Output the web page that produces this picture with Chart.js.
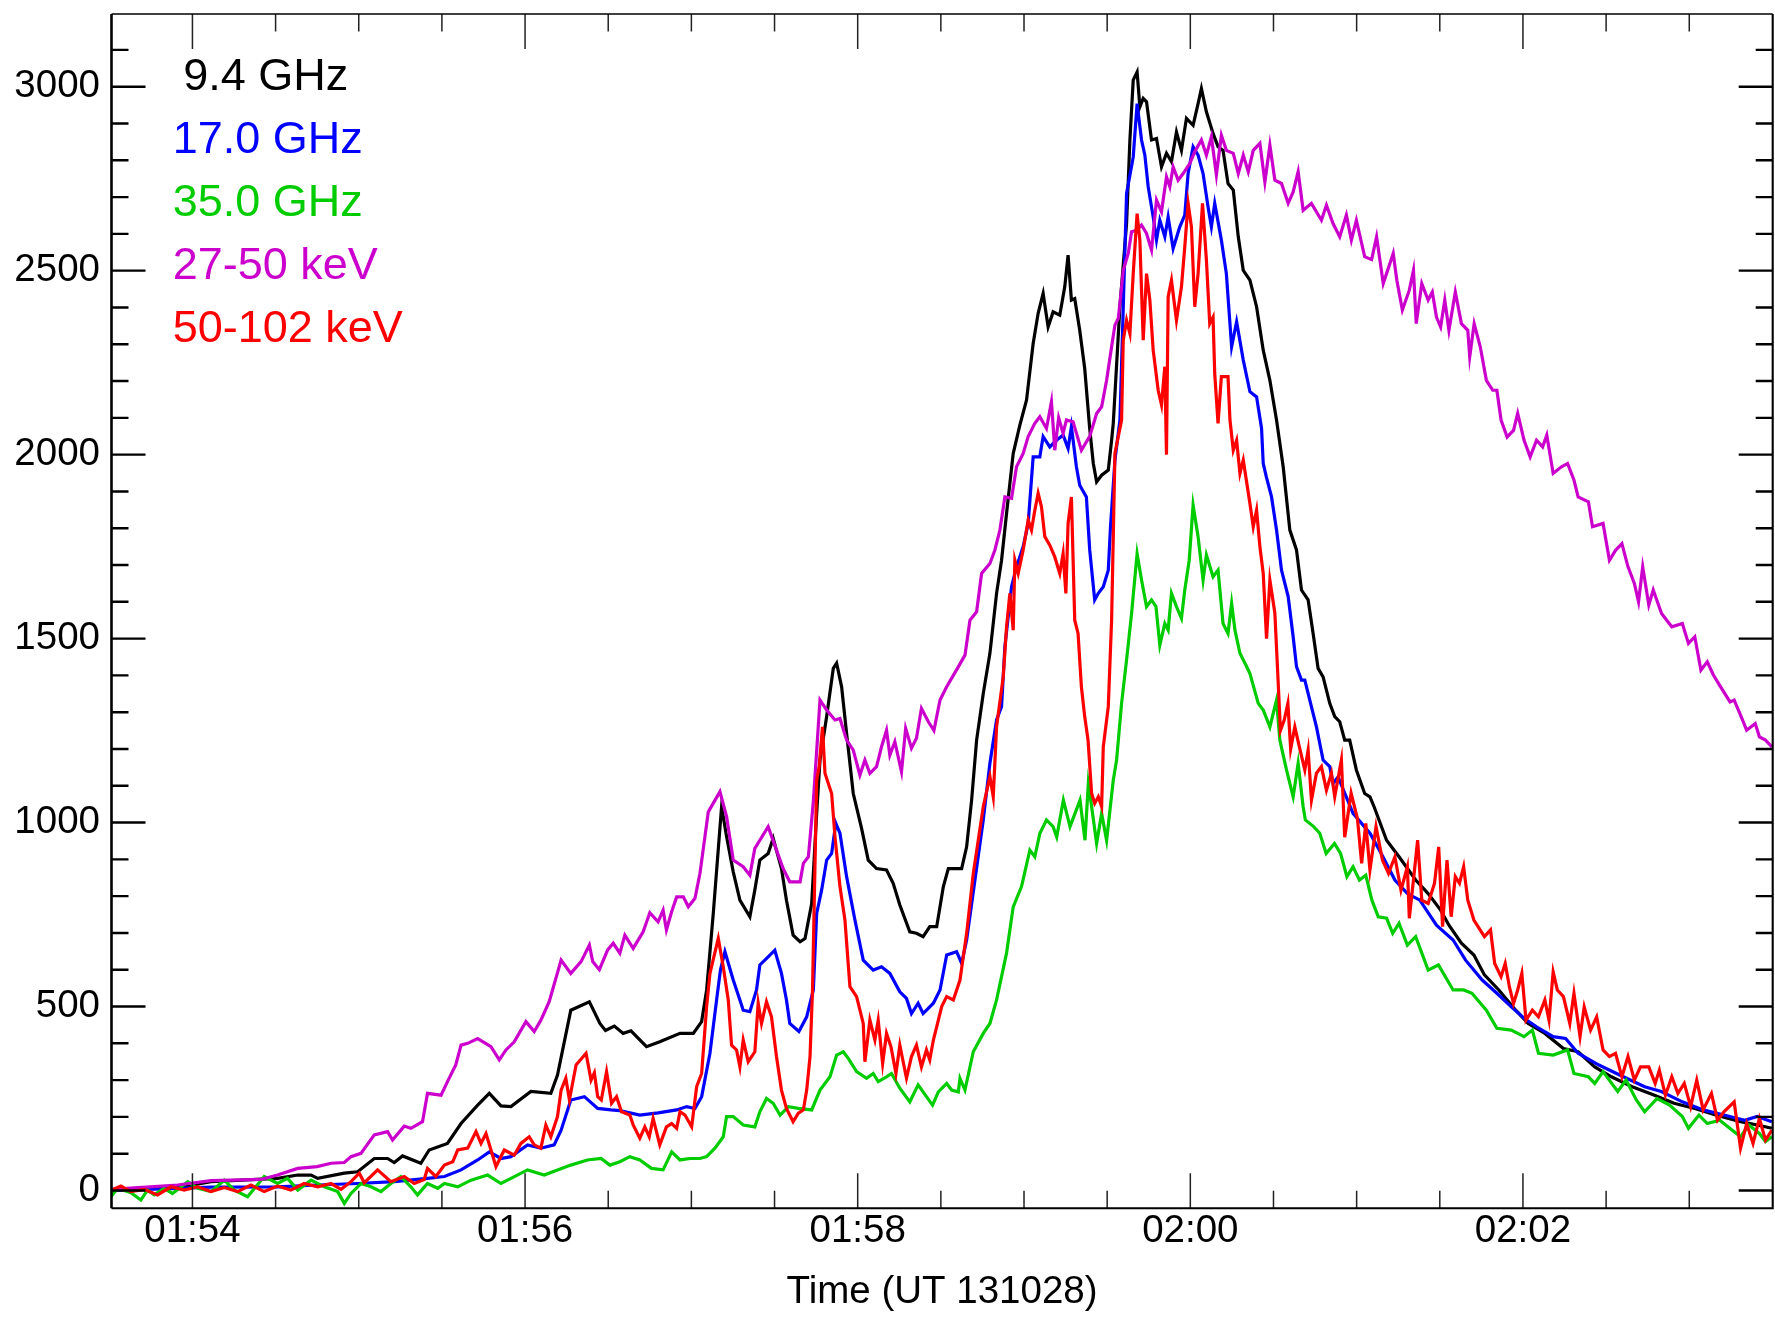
<!DOCTYPE html>
<html>
<head>
<meta charset="utf-8">
<script src="https://cdn.jsdelivr.net/npm/chart.js@4"></script>
<style>
html,body{margin:0;padding:0;background:#fff;}
#c{display:block;}
</style>
</head>
<body>
<canvas id="c" width="1775" height="1317" style="width:1775px;height:1317px"></canvas>
<script>
// ---------------- DATA ----------------
// time: seconds after 01:54:00 UT (2013-10-28); value: flux / counts
const xMajorTicks = [0, 120, 240, 360, 480];
const xTickLabels = ['01:54', '01:56', '01:58', '02:00', '02:02'];
const xMinorTicks = [30, 60, 90, 150, 180, 210, 270, 300, 330, 390, 420, 450, 510, 540];
const yMajorTicks = [0, 500, 1000, 1500, 2000, 2500, 3000];
const yTickLabels = ['0', '500', '1000', '1500', '2000', '2500', '3000'];
const yMinorTicks = [100,200,300,400,600,700,800,900,1100,1200,1300,1400,1600,1700,1800,1900,2100,2200,2300,2400,2600,2700,2800,2900,3100];
const seriesLabels = ['9.4 GHz', '17.0 GHz', '35.0 GHz', '27-50 keV', '50-102 keV'];
const xTitle = 'Time (UT 131028)';

const ghz9_4 = [[-29.4,1],[-5.3,8],[6.7,24],[30.7,33],[38,42],[42.8,42],[45.2,33],[54.8,47],[59.6,51],[65.6,87],
[70.4,87],[72.8,76],[75.8,94],[82.4,74],[85.4,110],[92,128],[96.9,182],[102.9,232],[107.1,264],[111.3,230],
[114.9,228],[122.1,269],[129.3,264],[131.7,314],[136.5,490],[143.2,513],[147,454],[149,435],[152.2,447],[155.4,427],
[158.2,434],[163.8,391],[168.6,404],[175.9,427],[180.7,427],[183.7,459],[185.5,545],[187.9,753],[190.9,1043],[192.7,962],
[195.1,866],[197.5,789],[201.1,744],[202.9,817],[204.7,898],[207.7,916],[209.5,957],[212.5,875],[214.3,789],[216.7,694],
[219.2,676],[221,685],[223.4,780],[225.2,1025],[226.4,1170],[228.8,1288],[231.2,1419],[232.4,1433],[234.2,1369],[236,1242],
[238.4,1079],[241.4,984],[243.8,898],[246.8,875],[250.4,871],[252.8,835],[255.2,776],[258.8,703],[261.2,699],[263.6,690],
[266,717],[268.5,717],[270.9,826],[272.7,875],[277.5,875],[279.3,934],[281.1,1061],[282.9,1224],[285.3,1351],[287.7,1460],
[290.1,1623],[291.9,1713],[293.7,1840],[296.1,2003],[298.5,2080],[300.9,2148],[303.3,2302],[305.1,2384],[306.9,2438],[308.7,2347],
[310.5,2388],[312.9,2379],[314.7,2456],[315.9,2542],[317.1,2420],[318.3,2424],[320.1,2338],[321.9,2234],[323.7,2071],[325,1976],
[326.2,1926],[328,1944],[330.4,1958],[331.6,2039],[332.2,2085],[334.6,2402],[337,2628],[338.2,2855],[339.4,3018],[340.8,3040],
[341.8,2945],[343,2968],[344.2,2959],[346,2855],[347.8,2859],[349.6,2782],[351.4,2819],[353.2,2796],[355,2877],[356.8,2827],
[358.6,2914],[361,2895],[362.8,2954],[364,2995],[365.8,2932],[368.2,2873],[370,2837],[371.8,2827],[373.6,2737],[375.5,2719],
[377.3,2592],[379.1,2501],[381.5,2474],[383.9,2402],[386.3,2284],[388.7,2202],[391.1,2094],[393.5,1967],[395.9,1795],[398.3,1741],
[400.1,1632],[402.5,1605],[404.3,1514],[406.1,1419],[407.9,1396],[410.3,1324],[412.1,1288],[413.9,1274],[415.7,1224],[417.5,1224],
[419.9,1143],[422.9,1079],[424.8,1070],[426.3,1043],[430.8,952],[435.3,907],[441.3,844],[445.8,807],[450.3,762],[453.3,721],
[457.8,672],[462.3,640],[466.1,586],[471.3,545],[477.4,490],[481.9,454],[487.9,427],[494.6,386],[499.9,377],[505.9,336],
[511.9,309],[519.4,282],[527,260],[534.5,237],[542,223],[549.5,205],[558.5,187],[564.5,178],[569.8,169]];

const ghz17 = [[-29.4,0],[-5.3,6],[6.7,9],[30.7,10],[45.2,15],[59.6,19],[72.8,24],[84.8,33],[90.9,38],[96.9,56],
[102.9,83],[107.1,105],[111.3,87],[114.9,92],[120.9,124],[125.7,115],[130.5,124],[133,164],[136.5,246],[141.4,255],
[146.2,223],[151,219],[154.2,217],[161.4,205],[168,211],[174.7,219],[178.3,228],[181.3,223],[183.7,255],[186.7,373],
[189.1,518],[190.5,600],[192.1,649],[195.1,572],[197.5,518],[198.7,490],[201.1,486],[203.5,545],[204.7,613],[207.7,635],
[210.1,653],[212.5,590],[214.3,518],[215.5,454],[218.8,432],[221.6,472],[224,545],[225.2,753],[227,817],[228.8,898],
[230.6,916],[232.1,998],[233.6,971],[236,853],[239,735],[242,626],[245.6,599],[248.6,608],[251.6,590],[255.2,540],
[257.6,522],[259.4,481],[261.8,509],[263.6,481],[267.3,509],[269.7,545],[272.1,640],[275.7,649],[277.5,617],[279.3,681],
[282.3,844],[285.3,1007],[287.7,1161],[290.1,1279],[291.9,1315],[293.1,1478],[295.5,1641],[297.3,1695],[299.7,1750],[301.5,1813],
[303.3,1994],[305.7,1994],[306.9,2049],[309.3,2021],[311.7,2039],[314.1,2053],[315.9,2017],[317.1,2076],[318.9,1967],[320.1,1917],
[322.5,1885],[323.7,1741],[325.5,1605],[326.8,1623],[328.6,1641],[330.4,1686],[331.2,1804],[332.8,1985],[334.6,2094],[335.8,2400],
[337,2710],[339.4,2809],[340.8,2954],[342.4,2855],[343.6,2814],[344.8,2728],[346.6,2646],[347.8,2583],[349,2637],[350.8,2592],
[352,2646],[353.8,2560],[356.2,2619],[358,2651],[359.2,2764],[361,2837],[362.8,2814],[364.6,2764],[366.4,2673],[367.6,2619],
[368.8,2683],[371.2,2583],[373,2492],[374.9,2293],[376.7,2361],[379.1,2257],[381.5,2171],[383.9,2157],[385.7,2071],[386.3,1976],
[387.4,1940],[389.3,1885],[391.1,1795],[392.9,1686],[395.3,1614],[397.1,1505],[398.3,1424],[400.1,1387],[401.3,1387],[403.1,1333],
[405.5,1260],[407.9,1170],[410.3,1152],[411.5,1106],[413.3,1124],[418.7,1025],[424.8,971],[428.5,921],[433.8,844],[438.3,807],
[442.8,789],[448.8,721],[454.8,681],[459.3,626],[465.3,572],[470.6,536],[475.8,499],[480.4,468],[484.9,445],[490.9,418],
[495.4,413],[499.9,373],[507.4,341],[514.9,314],[523.9,282],[529.9,269],[537.5,241],[545,219],[552.5,205],[560,191],
[564.5,201],[569.8,187]];

const ghz35 = [[-29.4,-17],[-27,6],[-22.2,-6],[-18.6,-26],[-16.2,1],[-13.8,-12],[-10.2,6],[-7.2,-8],[-1.7,24],[1.9,6],
[6.7,-3],[11.5,28],[15.1,1],[19.9,-17],[25.9,38],[30.7,19],[34.3,33],[38,1],[42.8,28],[47.6,10],
[52.4,-3],[54.8,-35],[57.2,-8],[60.8,19],[64.4,10],[68,-3],[71.6,19],[75.2,38],[78.8,10],[81.2,-12],
[84.8,19],[88.5,6],[90.9,19],[95.7,10],[100.5,28],[106.5,42],[111.3,19],[114.9,33],[120.9,56],[126.9,42],
[131.7,56],[136.5,69],[142.5,83],[147.4,87],[150.6,69],[154.2,78],[157.8,92],[161.4,83],[165.6,60],[169.8,56],
[172.9,105],[175.9,83],[179.5,87],[183.1,87],[185.5,92],[188.5,115],[191.5,146],[192.7,201],[195.1,201],[198.7,178],
[202.9,173],[204.7,214],[207.1,250],[209.5,237],[212,205],[215,228],[218.6,223],[223.4,219],[226.4,273],[230,309],
[232.4,368],[234.8,377],[236.6,359],[239.6,323],[243.2,305],[245.6,318],[247.4,296],[250.4,309],[252.2,318],[255.2,278],
[258.8,241],[261.8,287],[264.8,255],[267,232],[269.1,268],[272.1,291],[273.9,273],[276.3,268],[276.9,305],[278.7,273],
[281.7,377],[285.3,427],[287.7,454],[290.1,518],[293.7,645],[296.1,771],[299.1,826],[302.1,925],[303.9,907],[305.7,970],
[308.1,1007],[310.5,989],[311.8,961],[314.2,1061],[316.6,989],[318.4,1025],[320.2,1061],[322,952],[323.2,1106],[324.4,1043],
[326.2,943],[328,1025],[329.8,952],[332.2,1115],[333.4,1170],[335.2,1324],[337,1442],[338.8,1568],[340.8,1731],[342.4,1659],
[344.2,1587],[346,1605],[347.6,1587],[349,1482],[350.8,1541],[352,1523],[353.2,1623],[355,1587],[356.8,1555],[358,1632],
[359.6,1713],[361,1863],[362.8,1777],[364.6,1659],[365.8,1727],[368.2,1668],[370,1686],[371.8,1541],[373.6,1514],[374.9,1596],
[376.1,1523],[377.9,1460],[380.3,1424],[381.5,1405],[384.5,1324],[386.3,1306],[388.7,1260],[391.1,1333],[392.3,1224],[394.7,1143],
[397.1,1070],[398.9,1161],[400.7,1043],[401.5,1007],[404.5,989],[406.7,971],[409,916],[412,943],[414.2,916],[416.5,853],
[418.7,880],[421,844],[423.3,857],[425.5,789],[427.8,744],[430.8,740],[433,699],[435.3,726],[438.3,667],[441.3,690],
[445.8,599],[449.5,613],[454.8,545],[458.6,545],[461.6,536],[466.8,490],[470.6,441],[475.8,436],[480.4,418],[483.4,436],
[485.6,373],[490.9,368],[496.1,382],[498.4,318],[503.6,309],[505.9,291],[508.9,323],[514.2,269],[517.2,300],[520.9,246],
[523.9,214],[528.4,250],[532.9,232],[537.5,201],[539.7,169],[543.5,205],[546.5,182],[551,191],[555.5,164],[558.5,146],
[561.5,178],[565.3,155],[567.5,133],[569.8,146]];

const kev27_50 = [[-29.4,3],[-5.3,15],[6.7,27],[24.7,30],[30.7,42],[38,60],[45,65],[50,74],[54.8,76],[57.2,92],
[60.8,101],[65.6,151],[70.4,160],[72.2,137],[76.4,175],[78.8,169],[83,187],[84.8,264],[89.7,259],[92,296],
[95,341],[96.9,395],[99.3,400],[102.9,413],[107.7,391],[110.7,355],[113.1,382],[116.1,404],[120.3,459],[123.3,432],
[125.7,463],[128.7,513],[133,626],[136.5,590],[140.2,622],[143.2,667],[144.4,622],[146.8,600],[149.8,654],[151.8,672],
[154.2,645],[156,694],[159,658],[162.6,703],[165,755],[168,730],[169.8,762],[171,708],[172.9,758],[174.7,798],
[177.1,798],[178.9,771],[181.3,794],[183.1,862],[186.1,1029],[190.3,1084],[192.7,1016],[195.1,898],[198.7,880],[201.1,857],
[202.9,930],[204.7,952],[207.7,989],[210.7,925],[213.1,875],[215.5,839],[219.2,839],[220.4,889],[222.2,907],[224,1057],
[226.4,1333],[228.8,1306],[231.8,1279],[233.6,1283],[236,1224],[238.4,1197],[240.8,1129],[242.6,1170],[244.4,1134],[246.8,1152],
[248.6,1206],[250.4,1251],[251.6,1183],[253.4,1220],[255.8,1138],[257.3,1256],[259.4,1202],[261.2,1229],[263,1310],[265.5,1274],
[267.5,1250],[269.7,1333],[272.1,1369],[274.5,1400],[276.3,1423],[278.7,1455],[280.5,1550],[282.9,1573],[284.7,1677],[287.7,1704],
[289.5,1741],[291.3,1795],[293.1,1885],[295.5,1881],[297.3,1967],[299.7,2003],[301.5,2049],[303.9,2085],[305.7,2103],[308.1,2071],
[309.9,2144],[311.1,2012],[312.5,2100],[314.1,2058],[315.3,2094],[317.7,2089],[320.7,2012],[323.7,2050],[326.2,2112],[328,2130],
[329.8,2202],[331.6,2293],[332.8,2352],[334,2370],[334.6,2411],[335.8,2501],[337.6,2547],[338.8,2606],[340.6,2610],[342.4,2624],
[344.2,2601],[346,2556],[347.8,2692],[349.6,2660],[351.4,2755],[352.6,2728],[353.8,2782],[355.6,2746],[357.4,2764],[359.8,2791],
[361.6,2823],[364,2855],[365.8,2814],[367.6,2864],[369.4,2760],[371.2,2868],[373,2827],[375.5,2819],[377.3,2764],[379.1,2814],
[380.9,2769],[382.7,2827],[385.1,2846],[386.9,2741],[388.7,2841],[390.5,2746],[392.9,2737],[395.3,2683],[397.1,2714],[398.9,2769],
[400.7,2664],[403.7,2683],[407.3,2637],[409.1,2678],[411.5,2628],[413.9,2592],[416.3,2651],[418.1,2583],[419.9,2637],[422.9,2538],
[425.4,2530],[427.2,2592],[429.6,2465],[433.2,2547],[434.5,2474],[436.5,2393],[439,2447],[440.5,2501],[441.5,2356],[443.5,2465],
[445.8,2420],[447.3,2442],[448.8,2374],[450.3,2347],[451.8,2420],[453.3,2338],[455.6,2442],[457.8,2356],[460.1,2338],[460.8,2266],
[462.4,2356],[464.6,2293],[466.8,2202],[469.1,2175],[470.6,2175],[472.1,2094],[474.3,2048],[476.6,2066],[478.1,2112],[480.4,2039],
[482.6,1994],[484.9,2039],[487.1,2021],[488.6,2053],[490.9,1949],[493.9,1967],[496.1,1976],[498.4,1931],[499.9,1885],[503.6,1872],
[505.1,1804],[508.9,1813],[511.2,1713],[513.4,1740],[515.7,1758],[517.9,1695],[520.2,1650],[521.7,1600],[523.2,1695],[525.4,1591],
[527,1632],[530,1568],[533.7,1532],[537.5,1541],[539.7,1487],[542,1505],[544.2,1414],[546.5,1437],[548.7,1401],[551.7,1364],
[554.7,1328],[556.2,1333],[558.5,1292],[560.7,1251],[563.8,1269],[565.3,1233],[567.5,1224],[569.8,1206]];

const kev50_102 = [[-29.4,1],[-25.8,12],[-22.2,-3],[-17.4,3],[-12.6,-12],[-7.7,10],[-3,1],[1.9,10],[6.7,-3],[11.5,8],
[16.3,-3],[21.1,15],[25.9,-3],[30.7,12],[35.5,1],[40.3,19],[45.2,10],[50,19],[53.6,3],[57.2,24],
[60.2,47],[62,21],[66.8,56],[71.6,24],[76.4,38],[80,19],[83.6,30],[84.8,60],[87.8,38],[90.9,69],
[93.9,78],[95.7,110],[99.3,115],[102.3,160],[104.1,128],[105.9,155],[107.7,110],[109.5,65],[112.5,110],[116.1,96],
[118.5,128],[121.5,146],[123.3,124],[125.7,115],[127.5,178],[129.3,146],[131.7,201],[133,273],[134.7,305],[136,246],
[138.4,341],[142,373],[143.8,300],[145,320],[146.2,255],[147.5,246],[149.4,323],[151.2,237],[153,255],[154.8,214],
[157.8,205],[159,178],[161.4,142],[163.2,173],[164.8,146],[166.2,196],[168.6,124],[171,173],[172.9,182],[174.7,169],
[175.9,214],[177.7,205],[180.1,173],[181.9,282],[183.7,318],[185.5,500],[186.7,590],[189.7,685],[191.5,608],[193.3,518],
[194.5,395],[196.3,382],[197.5,336],[198.7,409],[200.5,350],[202.9,377],[204.1,509],[205.3,454],[207.1,513],[208.9,472],
[210.7,364],[212.5,273],[214.3,223],[216.7,187],[218.6,210],[220.4,219],[221.6,273],[222.8,364],[223.7,545],[225.2,1115],
[226.1,1152],[227.3,1260],[228.2,1134],[229.4,1106],[230.6,1079],[231.8,962],[233.6,826],[235.4,735],[237.2,554],[239.6,527],
[242,454],[242.6,350],[244.4,463],[246.2,409],[247.4,463],[249,345],[250.4,427],[252,391],[253.8,318],[255.2,395],
[257.6,305],[259.4,364],[261.2,395],[263,336],[264.8,382],[266,355],[267.3,409],[269.1,463],[270.3,500],[272.1,527],
[274.5,518],[276.9,572],[279.3,699],[281.7,862],[285.3,1043],[287.7,1125],[288.9,1070],[290.1,1260],[292.5,1396],[293.7,1532],
[294.9,1623],[296.1,1523],[296.7,1713],[297.9,1677],[299.7,1741],[301.5,1822],[302.7,1795],[303.9,1849],[305.1,1895],[306.3,1858],
[307.5,1777],[309.3,1754],[311.1,1722],[312.9,1677],[314.1,1731],[315.1,1623],[315.9,1813],[317.1,1885],[318.3,1550],[319.5,1514],
[320.7,1369],[321.9,1288],[323.1,1224],[324.4,1079],[325.5,1052],[326.8,1070],[328,1043],[328.6,1206],[330.4,1315],[331.6,1550],
[332.8,2003],[334,2049],[335.2,2094],[335.8,2311],[337,2365],[338.2,2329],[339.4,2492],[340.8,2655],[341.8,2583],[343,2311],
[344.2,2492],[345.4,2420],[346.6,2284],[348.4,2175],[349.6,2135],[350.8,2239],[351.4,2000],[352,2429],[353.2,2474],[355,2365],
[356.8,2456],[358,2565],[359.2,2683],[360.4,2619],[361.6,2402],[362.8,2492],[364.4,2683],[365.8,2529],[367,2356],[368.2,2374],
[368.8,2221],[370,2085],[371.2,2212],[373.6,2212],[374.3,2094],[375.5,2012],[376.7,2039],[377.9,1949],[379.1,1985],[380.3,1926],
[381.5,1867],[382.7,1804],[383.9,1849],[385.1,1750],[386.3,1677],[387.5,1500],[388.7,1659],[390.5,1569],[391.7,1380],[392.5,1250],
[393.9,1279],[395.2,1324],[396.2,1200],[397.7,1260],[399.5,1200],[401.3,1143],[402.5,1197],[403.7,1061],[405.5,1134],[407.3,1152],
[409.1,1088],[410.9,1134],[412.1,1070],[414.5,1170],[415.7,960],[418,1080],[420.3,1010],[421.8,889],[423.3,998],[424.8,871],
[427,989],[429.3,898],[431.5,862],[433.8,907],[436,816],[438.3,880],[439,740],[440.5,844],[442,952],[443.5,789],
[445.8,780],[448.1,835],[449.6,934],[451,717],[452.6,898],[454.1,744],[455.6,853],[457.1,835],[458.6,880],[460.1,789],
[462.3,735],[463.8,717],[466.1,690],[468.3,708],[469.8,617],[472.1,581],[473.6,617],[475.1,554],[476.6,508],[478.1,545],
[479.6,590],[481.1,463],[483.4,490],[485.6,472],[487.9,518],[489.4,463],[490.9,594],[492.4,545],[494.6,527],[496.9,454],
[498.4,536],[500.6,418],[502.1,499],[504.4,436],[506.6,472],[508.9,382],[511.2,364],[513.4,373],[515.7,309],[517.9,364],
[520.2,300],[522.4,336],[525.4,336],[527.7,291],[529.2,327],[531.4,259],[533.7,309],[535.9,264],[538.2,291],[540.5,228],
[542.7,300],[545,219],[548,264],[550.2,191],[552.5,214],[556.2,241],[558.5,115],[560.7,182],[563,128],[565.3,196],
[567.5,137],[569.8,164]];

// ---------------- CHART ----------------
const FONT = "'Liberation Sans', Arial, Helvetica, sans-serif";
const seriesData = [ghz9_4, ghz17, ghz35, kev27_50, kev50_102];
const seriesColors = ['#000000', '#0000ff', '#00cc00', '#cc00cc', '#ff0000'];

const datasets = seriesData.map((s, i) => ({
  label: seriesLabels[i],
  data: s.map(p => ({x: p[0], y: p[1]})),
  borderColor: seriesColors[i],
  backgroundColor: seriesColors[i],
  borderWidth: 3.2,
  pointRadius: 0,
  tension: 0,
  fill: false,
  order: 5 - i
}));

const framePlugin = {
  id: 'idlFrame',
  afterDatasetsDraw(chart) {
    const {ctx, chartArea: a, scales: {x, y}} = chart;
    ctx.save();
    ctx.strokeStyle = '#000';
    ctx.lineCap = 'butt';
    // y ticks (both sides, pointing inward)
    ctx.lineWidth = 2.4;
    const yt = yMajorTicks.map(v => [v, 34]).concat(yMinorTicks.map(v => [v, 17]));
    yt.forEach(([v, len]) => {
      const py = y.getPixelForValue(v);
      ctx.beginPath();
      ctx.moveTo(a.left, py); ctx.lineTo(a.left + len, py);
      ctx.moveTo(a.right, py); ctx.lineTo(a.right - len, py);
      ctx.stroke();
    });
    // x ticks (bottom and top, pointing inward)
    ctx.lineWidth = 1.5;
    ctx.strokeStyle = '#222';
    const xt = xMajorTicks.map(v => [v, 35]).concat(xMinorTicks.map(v => [v, 17.5]));
    xt.forEach(([v, len]) => {
      const px = x.getPixelForValue(v);
      ctx.beginPath();
      ctx.moveTo(px, a.bottom); ctx.lineTo(px, a.bottom - len);
      ctx.moveTo(px, a.top); ctx.lineTo(px, a.top + len);
      ctx.stroke();
    });
    // frame
    ctx.strokeStyle = '#000';
    ctx.lineWidth = 2.6;
    ctx.beginPath(); ctx.moveTo(a.left, a.top); ctx.lineTo(a.left, a.bottom); ctx.stroke();
    ctx.lineWidth = 2.1;
    ctx.beginPath(); ctx.moveTo(a.left, a.bottom); ctx.lineTo(a.right, a.bottom); ctx.lineTo(a.right, a.top); ctx.stroke();
    ctx.lineWidth = 1.5;
    ctx.beginPath(); ctx.moveTo(a.left, a.top); ctx.lineTo(a.right, a.top); ctx.stroke();
    ctx.restore();
  },
  afterDraw(chart) {
    // in-plot text legend
    const {ctx} = chart;
    ctx.save();
    ctx.font = '45px ' + FONT;
    ctx.textAlign = 'left';
    ctx.textBaseline = 'alphabetic';
    const indents = [10.5, 0, 0, 0, 0];
    chart.data.datasets.forEach((d, i) => {
      ctx.fillStyle = d.borderColor;
      ctx.fillText(d.label, 172.7 + indents[i], 90 + 63 * i);
    });
    ctx.restore();
  }
};

new Chart(document.getElementById('c').getContext('2d'), {
  type: 'line',
  data: {datasets},
  options: {
    responsive: false,
    animation: false,
    devicePixelRatio: 1,
    events: [],
    layout: {padding: {left: 0, right: 2.3, top: 14, bottom: 0}},
    plugins: {legend: {display: false}, tooltip: {enabled: false}},
    scales: {
      x: {
        type: 'linear',
        min: -29.2, max: 570.1,
        afterBuildTicks: s => { s.ticks = xMajorTicks.map(v => ({value: v})); },
        afterFit: s => { s.height = 1317 - 1208.3; s.paddingLeft = 0; s.paddingRight = 0; },
        grid: {display: false, drawTicks: false, tickLength: 0},
        border: {display: false},
        ticks: {
          autoSkip: false, maxRotation: 0, minRotation: 0,
          padding: 0,
          color: '#000',
          font: {family: FONT, size: 38.5},
          callback: v => { const k = xMajorTicks.indexOf(v); return k >= 0 ? xTickLabels[k] : ''; }
        },
        title: {
          display: true, text: xTitle, color: '#000',
          font: {family: FONT, size: 38.5},
          padding: {top: 0, bottom: 1.1}
        }
      },
      y: {
        type: 'linear',
        min: -48.4, max: 3197.6,
        afterBuildTicks: s => { s.ticks = yMajorTicks.map(v => ({value: v})); },
        afterFit: s => { s.width = 111.5; s.paddingTop = 0; s.paddingBottom = 0; },
        grid: {display: false, drawTicks: false, tickLength: 0},
        border: {display: false},
        ticks: {
          autoSkip: false,
          padding: 11.5,
          color: '#000',
          font: {family: FONT, size: 38.5},
          callback: v => { const k = yMajorTicks.indexOf(v); return k >= 0 ? yTickLabels[k] : ''; }
        }
      }
    }
  },
  plugins: [framePlugin]
});
</script>
</body>
</html>
